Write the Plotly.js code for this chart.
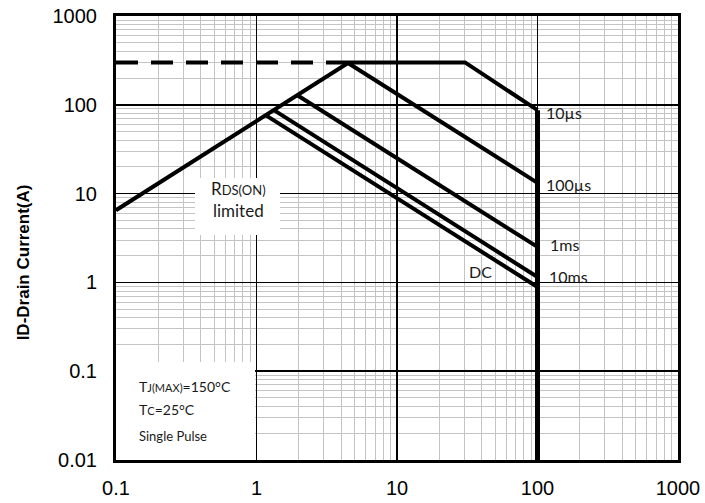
<!DOCTYPE html>
<html>
<head>
<meta charset="utf-8">
<script src="https://cdn.plot.ly/plotly-3.0.1.min.js"></script>
<style>body{margin:0;background:#fff}#chart{width:705px;height:503px}</style>
</head>
<body>
<div id="chart"></div>
<script>
// Data (log-log SOA chart)
const xTickVals = [0.1, 1, 10, 100, 1000];
const xTickText = ['0.1', '1', '10', '100', '1000'];
const yTickVals = [0.01, 0.1, 1, 10, 100, 1000];
const yTickText = ['0.01', '0.1', '1', '10', '100', '1000'];
const minorDigits = [2, 3, 4, 5, 6, 7, 8, 9];
const xDecades = [0.1, 1, 10, 100];
const yDecades = [0.01, 0.1, 1, 10, 100];

const rdsX = [0.1, 4.48];          const rdsY = [6.5, 296];
const limitX = [0.1, 4.48];        const limitY = [300, 300];
const us10X = [4.48, 30.5, 100];   const us10Y = [300, 300, 87];
const us100X = [4.48, 100];        const us100Y = [296, 13.2];
const ms1X = [1.94, 100];          const ms1Y = [129, 2.51];
const ms10X = [1.33, 100];         const ms10Y = [87, 1.15];
const dcX = [1.16, 100];           const dcY = [76.5, 0.887];
const vdsX = [100, 100];           const vdsY = [87, 0.01];

const curveLabels = ['10\u00b5s', '100\u00b5s', '1ms', '10ms', 'DC'];
const labelX = [111, 112, 118, 116, 39];
const labelY = [81, 12.8, 2.64, 1.18, 1.31];

const lw = 4;
const ln = (x, y, extra) => Object.assign({x: x, y: y, type: 'scatter', mode: 'lines',
  line: {color: '#000', width: lw}, hoverinfo: 'skip', showlegend: false}, extra || {});

const traces = [
  ln(limitX, limitY, {line: {color: '#000', width: lw, dash: '22px,13px'}}),
  ln(rdsX, rdsY),
  ln(us10X, us10Y),
  ln(us100X, us100Y),
  ln(ms1X, ms1Y),
  ln(ms10X, ms10Y),
  ln(dcX, dcY),
  ln(vdsX, vdsY, {line: {color: '#000', width: 5}})
];

const ff = 'Lato, "Open Sans", sans-serif';
const txtFont = {family: ff, size: 16, color: '#1a1a1a'};
const annotations = curveLabels.map((t, i) => ({
  x: Math.log10(labelX[i]), y: Math.log10(labelY[i]), xref: 'x', yref: 'y',
  text: t, showarrow: false, xanchor: i === 4 ? 'center' : 'left', yanchor: 'middle', font: txtFont
}));
annotations.push({x: Math.log10(0.74), y: Math.log10(8.5), xref: 'x', yref: 'y', showarrow: false,
  text: 'R<span style="font-size:13px">DS(ON)</span><br>limited', align: 'center',
  font: {family: ff, size: 17, color: '#1a1a1a'}});
const smallFont = {family: ff, size: 14, color: '#1a1a1a'};
annotations.push({x: Math.log10(0.141), y: Math.log10(0.068), xref: 'x', yref: 'y', showarrow: false, xanchor: 'left',
  text: 'T<span style="font-size:11px">J(MAX)</span>=150\u00b0C', font: smallFont});
annotations.push({x: Math.log10(0.141), y: Math.log10(0.0366), xref: 'x', yref: 'y', showarrow: false, xanchor: 'left',
  text: 'T<span style="font-size:11px">C</span>=25\u00b0C', font: smallFont});
annotations.push({x: Math.log10(0.141), y: Math.log10(0.0186), xref: 'x', yref: 'y', showarrow: false, xanchor: 'left',
  text: 'Single Pulse', font: {family: ff, size: 13, color: '#1a1a1a'}});
annotations.push({x: -0.163, y: 0.446, xref: 'paper', yref: 'paper', showarrow: false, textangle: -90,
  xanchor: 'center', yanchor: 'middle',
  text: '<b>ID-Drain Current(A)</b>', font: {family: '"Liberation Sans", Arial, sans-serif', size: 17, color: '#000'}});

const shapes = [
  {type: 'rect', xref: 'x', yref: 'y', x0: 0.1, x1: 0.976, y0: 0.01, y1: 0.127,
   fillcolor: '#fff', line: {width: 0}, layer: 'between'},
  {type: 'rect', xref: 'x', yref: 'y', x0: 0.365, x1: 1.47, y0: 3.42, y1: 15.0,
   fillcolor: '#fff', line: {width: 0}, layer: 'between'}
];

const minorVals = decs => decs.flatMap(d => minorDigits.map(m => m * d));

const axisCommon = {
  type: 'log', showline: true, mirror: true, linecolor: '#000', linewidth: 3,
  showgrid: true, gridcolor: '#000', gridwidth: 1.5, ticks: '', zeroline: false,
  tickfont: {family: '"Liberation Sans", Arial, sans-serif', size: 20, color: '#000'}
};

const layout = {
  width: 705, height: 503,
  margin: {l: 116, r: 27, t: 16, b: 43},
  paper_bgcolor: '#fff', plot_bgcolor: '#fff',
  showlegend: false,
  xaxis: Object.assign({}, axisCommon, {range: [-1, 3], tickvals: xTickVals, ticktext: xTickText, ticklabelstandoff: 8,
    minor: {showgrid: true, gridcolor: '#c4c4c4', gridwidth: 1, tickmode: 'array', tickvals: minorVals(xDecades), ticks: ''}}),
  yaxis: Object.assign({}, axisCommon, {range: [-2, 3], tickvals: yTickVals, ticktext: yTickText, ticklabelstandoff: 12,
    minor: {showgrid: true, gridcolor: '#c4c4c4', gridwidth: 1, tickmode: 'array', tickvals: minorVals(yDecades), ticks: ''}}),
  annotations: annotations,
  shapes: shapes
};

Plotly.newPlot('chart', traces, layout, {displayModeBar: false, staticPlot: true});
</script>
</body>
</html>
